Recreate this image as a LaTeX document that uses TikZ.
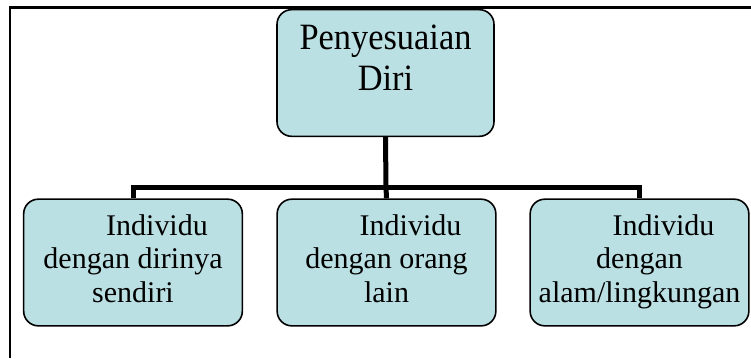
\documentclass[tikz,border=0pt]{standalone}
\usepackage{fontspec}
\setmainfont{Liberation Serif}
\definecolor{boxfill}{RGB}{187,224,227}
\begin{document}
\begin{tikzpicture}[x=0.75pt,y=-0.75pt,
  box/.style={draw=black, line width=1.2pt, fill=boxfill, rounded corners=11pt, inner sep=0pt},
  topbox/.style={box, minimum width=162.75pt, minimum height=95pt},
  subbox/.style={box, minimum width=164pt, minimum height=95pt},
  toptext/.style={anchor=base, align=center, inner sep=0pt, yscale=1.08, transform shape, font=\fontsize{25.8pt}{28pt}\selectfont},
  subtext/.style={anchor=base, align=center, inner sep=0pt, font=\fontsize{22.5pt}{25pt}\selectfont},
  conn/.style={line width=3.75pt, line join=miter, line cap=butt},
  frame/.style={line width=1.6pt}]
\useasboundingbox (0,0) rectangle (751,358);
% frame (top and left edges)
\coordinate (fl) at (10,358);
\coordinate (fc) at (10,7.5);
\coordinate (fr) at (751,7.5);
\draw[frame] (fl) -- (fc) -- (fr);
% boxes
\node[topbox] (top) at (385.5,73) {};
\node[subbox] (b1) at (133,262.5) {};
\node[subbox] (b2) at (386.5,262.5) {};
\node[subbox] (b3) at (639.5,262.5) {};
% texts (base anchor = baseline of the last line)
\node[toptext] (ttop) at (385.5,90) {Penyesuaian\\Diri};
\node[subtext] (t1) at (133,302) {\hspace*{36pt}Individu\\dengan dirinya\\sendiri};
\node[subtext] (t2) at (386.5,302) {\hspace*{36pt}Individu\\dengan orang\\lain};
\node[subtext] (t3) at (639.5,302) {\hspace*{36pt}Individu\\dengan\\alam/lingkungan};
% connectors
\coordinate (hub) at (386,187);
\draw[conn] (top.south) -- (hub);
\draw[conn] (hub) -- (b2.north);
\draw[conn] (b1.north) |- (hub) -| (b3.north);
\end{tikzpicture}
\end{document}
